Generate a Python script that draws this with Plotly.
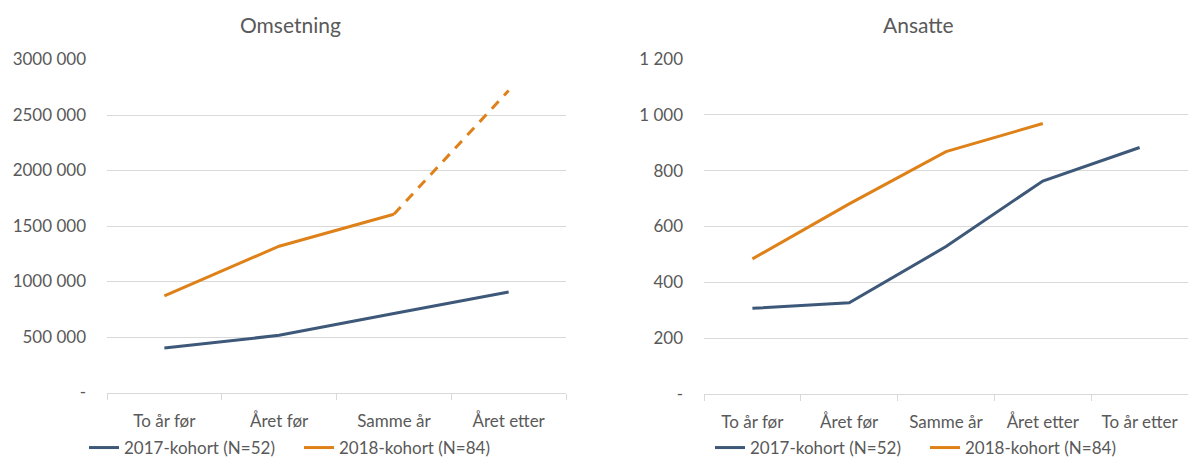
import plotly.graph_objects as go

# Kategorier (år relativt til etablering)
kat_oms = ["To år før", "Året før", "Samme år", "Året etter"]
kat_ans = ["To år før", "Året før", "Samme år", "Året etter", "To år etter"]

# Omsetning per kohort
oms_2017 = [400000, 515000, 712000, 905000]
oms_2018 = [870000, 1318000, 1606000, 2720000]

# Ansatte per kohort
ans_2017 = [307, 327, 528, 763, 883]
ans_2018 = [484, 681, 868, 969]

oms_tickvals = [0, 500000, 1000000, 1500000, 2000000, 2500000, 3000000]
oms_ticktext = ["-", "500 000", "1000 000", "1500 000", "2000 000", "2500 000", "3000 000"]
ans_tickvals = [0, 200, 400, 600, 800, 1000, 1200]
ans_ticktext = ["-", "200", "400", "600", "800", "1 000", "1 200"]

BLUE = "#3D5878"
ORANGE = "#DF8119"
GREY = "#595959"
GRID = "#D9D9D9"
FONT = "Lato"

W, H = 1188, 466

def px_x(v):
    return v / W

def px_y(v):
    return (H - v) / H

fig = go.Figure()

# Omsetning
fig.add_trace(go.Scatter(x=kat_oms, y=oms_2017, mode="lines", name="2017-kohort (N=52)",
                         line=dict(color=BLUE, width=3), xaxis="x", yaxis="y", legend="legend"))
fig.add_trace(go.Scatter(x=kat_oms[:3], y=oms_2018[:3], mode="lines", name="2018-kohort (N=84)",
                         line=dict(color=ORANGE, width=3), xaxis="x", yaxis="y", legend="legend"))
fig.add_trace(go.Scatter(x=kat_oms[2:], y=oms_2018[2:], mode="lines", showlegend=False,
                         line=dict(color=ORANGE, width=3, dash="10px,8px"), xaxis="x", yaxis="y"))

# Ansatte
fig.add_trace(go.Scatter(x=kat_ans, y=ans_2017, mode="lines", name="2017-kohort (N=52)",
                         line=dict(color=BLUE, width=3), xaxis="x2", yaxis="y2", legend="legend2"))
fig.add_trace(go.Scatter(x=kat_ans[:len(ans_2018)], y=ans_2018, mode="lines", name="2018-kohort (N=84)",
                         line=dict(color=ORANGE, width=3), xaxis="x2", yaxis="y2", legend="legend2"))

xcommon = dict(type="category", showgrid=False, showline=True, linecolor=GRID, linewidth=1,
               ticks="outside", ticklen=6, tickcolor=GRID, tickson="boundaries",
               tickfont=dict(family=FONT, size=17, color=GREY), ticklabelstandoff=13,
               automargin=False, fixedrange=True)
ycommon = dict(showgrid=True, gridcolor=GRID, gridwidth=1, zeroline=False, showline=False,
               ticks="", tickfont=dict(family=FONT, size=17, color=GREY), ticklabelstandoff=20,
               automargin=False, fixedrange=True)

legend_common = dict(orientation="h", xref="container", yref="container",
                     xanchor="left", yanchor="middle",
                     font=dict(family=FONT, size=17, color=GREY), bgcolor="rgba(0,0,0,0)",
                     entrywidth=170, entrywidthmode="pixels", traceorder="normal")

fig.update_layout(
    width=W, height=H, autosize=False,
    margin=dict(l=0, r=0, t=0, b=0, pad=0, autoexpand=False),
    paper_bgcolor="white", plot_bgcolor="white",
    font=dict(family=FONT, size=17, color=GREY),
    xaxis=dict(xcommon, domain=[px_x(107), px_x(566)], anchor="y",
               range=[-0.5, len(kat_oms) - 0.5]),
    yaxis=dict(ycommon, domain=[px_y(392.5), px_y(59.5)], anchor="x",
               range=[0, 3000000], tickvals=oms_tickvals, ticktext=oms_ticktext),
    xaxis2=dict(xcommon, domain=[px_x(704), 1.0], anchor="y2",
                range=[-0.5, len(kat_ans) - 0.5]),
    yaxis2=dict(ycommon, domain=[px_y(394), px_y(59)], anchor="x2",
                range=[0, 1200], tickvals=ans_tickvals, ticktext=ans_ticktext),
    legend=dict(legend_common, x=px_x(84), y=px_y(448)),
    legend2=dict(legend_common, x=px_x(710), y=px_y(448)),
    annotations=[
        dict(text="Omsetning", x=px_x(290), y=px_y(25), xref="paper", yref="paper",
             xanchor="center", yanchor="middle", showarrow=False,
             font=dict(family=FONT, size=21, color=GREY)),
        dict(text="Ansatte", x=px_x(918), y=px_y(25), xref="paper", yref="paper",
             xanchor="center", yanchor="middle", showarrow=False,
             font=dict(family=FONT, size=21, color=GREY)),
    ],
)

fig.write_html("out.html")
